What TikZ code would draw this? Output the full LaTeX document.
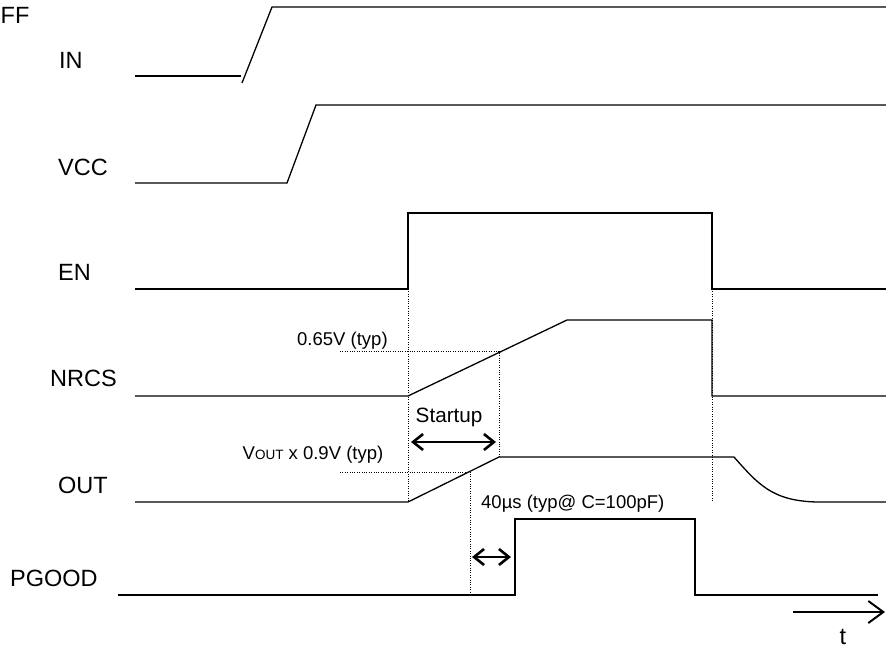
\documentclass[tikz,border=0pt]{standalone}
\usepackage{fontspec}
\setmainfont{Liberation Sans}
\usetikzlibrary{arrows.meta}
\begin{document}
\begin{tikzpicture}[x=1pt,y=-1pt,
  sig/.style={line width=1.3pt, line join=miter},
  guide/.style={line width=0.9pt, dash pattern=on 1pt off 1.4pt},
  biglabel/.style={font=\fontsize{23.5}{28}\selectfont, inner sep=0pt, anchor=base west},
  note/.style={font=\fontsize{18.5}{22}\selectfont, inner sep=0pt, anchor=base west},
  dimarrow/.style={line width=2.6pt, {Straight Barb[length=10pt,width=16pt]}-{Straight Barb[length=10pt,width=16pt]}},
  timearrow/.style={line width=2pt, -{Straight Barb[length=15pt,width=22pt]}}]
\useasboundingbox (0,0) rectangle (886,648);

% labels
\node[biglabel] (ff) at (0.5,23) {FF};
\node[biglabel] (lin) at (59,68) {IN};
\node[biglabel] (lvcc) at (58,175) {VCC};
\node[biglabel] (len) at (58,280) {EN};
\node[biglabel] (lnrcs) at (50,386) {NRCS};
\node[biglabel] (lout) at (58,493) {OUT};
\node[biglabel] (lpg) at (10,586) {PGOOD};

% signals
\draw[sig] (135,76) -- (241,76);
\draw[sig] (242,83) -- (272,7) -- (886,7);
\draw[sig] (135,183) -- (287,183) -- (316,105) -- (886,105);
\draw[sig] (135,289) -- (408,289) -- (408,213) -- (712,213) -- (712,289) -- (886,289);
\draw[sig] (135,396) -- (408,396) -- (567,320) -- (712,320) -- (712,396) -- (886,396);
\draw[sig] (135,502) -- (408,502) -- (499,457) -- (734,457)
  .. controls (758,484) and (772,501) .. (817,502) -- (886,502);
\draw[sig] (118,595) -- (515,595) -- (515,519) -- (695,519) -- (695,595) -- (878,595);

% guides
\draw[guide] (408,289) -- (408,502);
\draw[guide] (340,351) -- (499,351) -- (499,457);
\draw[guide] (340,472) -- (470,472) -- (470,595);
\draw[guide] (712,289) -- (712,502);

% annotations
\node[note] (n065) at (297,345) {0.65V (typ)};
\node[font=\fontsize{20.7}{24}\selectfont, inner sep=0pt, anchor=base west] (nstart) at (415.5,422.5) {Startup};
\node[note] (nvout) at (242.5,459) {V{\fontsize{13.5}{14}\selectfont OUT} x 0.9V (typ)};
\node[note] (n40) at (481,508) {40µs (typ@ C=100pF)};
\node[biglabel, anchor=base] (nt) at (843,644) {t};

\coordinate (sa) at (411,442);
\coordinate (sb) at (496,442);
\coordinate (pa) at (472,557);
\coordinate (pb) at (511,557);
\coordinate (ta) at (793,612);
\coordinate (tb) at (885,612);
\draw[dimarrow] (sa) -- (sb);
\draw[dimarrow] (pa) -- (pb);
\draw[timearrow] (ta) -- (tb);
\end{tikzpicture}
\end{document}
